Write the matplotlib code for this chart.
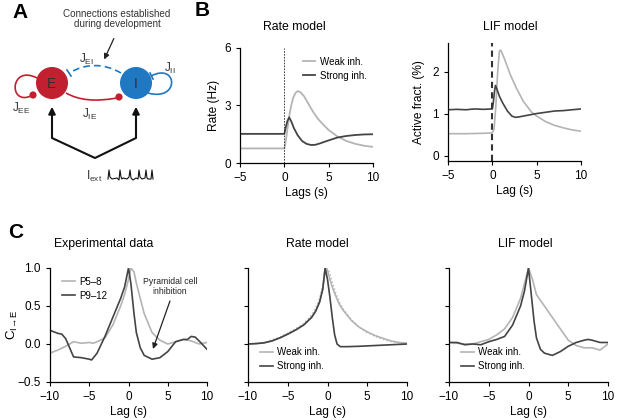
import numpy as np
import matplotlib
matplotlib.use("Agg")
import matplotlib.pyplot as plt
from matplotlib.patches import Circle, PathPatch
from matplotlib.path import Path

plt.rcParams['font.family'] = ['Liberation Sans', 'DejaVu Sans']
plt.rcParams['axes.linewidth'] = 0.9
plt.rcParams['xtick.major.size'] = 3
plt.rcParams['ytick.major.size'] = 3
plt.rcParams['xtick.labelsize'] = 8.5
plt.rcParams['ytick.labelsize'] = 8.5

LIGHT = '#b4b4b4'
DARK = '#444444'
RED = '#c0202f'
BLUE = '#2077c2'

# ---- panel B, rate model
rate_x_weak = [-5, 0, 0.1, 0.3, 0.5, 0.75, 1.0, 1.25, 1.5, 1.8, 2.2, 2.7, 3.2, 3.8, 4.5, 5, 6, 7, 8, 9, 10]
rate_y_weak = [0.76, 0.76, 0.95, 1.6, 2.3, 2.95, 3.4, 3.65, 3.75, 3.7, 3.5, 3.1, 2.7, 2.3, 1.95, 1.72, 1.38, 1.15, 1.0, 0.9, 0.84]
rate_x_strong = [-5, 0, 0.15, 0.35, 0.55, 0.8, 1.1, 1.5, 2, 2.5, 3, 3.5, 4, 5, 6, 7, 8, 9, 10]
rate_y_strong = [1.52, 1.52, 1.85, 2.2, 2.38, 2.15, 1.8, 1.45, 1.15, 1.0, 0.94, 0.95, 1.02, 1.18, 1.33, 1.41, 1.46, 1.49, 1.5]

# ---- panel B, LIF model
lif_x_weak = [-5, -3, -1, 0, 0.2, 0.4, 0.6, 0.8, 0.95, 1.3, 2, 2.7, 3.5, 4.4, 5, 6, 7, 8, 9, 10]
lif_y_weak = [0.53, 0.53, 0.54, 0.55, 0.65, 1.2, 2.0, 2.5, 2.52, 2.35, 1.95, 1.62, 1.3, 1.05, 0.95, 0.82, 0.73, 0.67, 0.62, 0.59]
lif_x_strong = [-5, -4, -3, -2, -1, 0, 0.1, 0.25, 0.35, 0.5, 0.8, 1.2, 1.7, 2.2, 2.6, 3, 4, 5, 6, 7, 8, 9, 10]
lif_y_strong = [1.1, 1.11, 1.1, 1.12, 1.11, 1.12, 1.25, 1.55, 1.68, 1.6, 1.42, 1.25, 1.07, 0.95, 0.92, 0.93, 0.97, 1.01, 1.04, 1.07, 1.08, 1.1, 1.12]

# ---- panel C, experimental
exp_x_p58 = [-10, -9, -8, -7, -6, -5, -4.5, -4, -3, -2, -1, -0.5, 0, 0.3, 0.7, 1, 2, 3, 4, 5, 6, 7, 8, 9, 10]
exp_y_p58 = [-0.12, -0.08, -0.03, 0.03, 0.01, 0.02, 0.01, 0.03, 0.08, 0.25, 0.5, 0.65, 0.85, 1.0, 0.95, 0.8, 0.4, 0.15, 0.05, 0.0, 0.03, 0.06, 0.04, 0.0, 0.02]
exp_x_p912 = [-10, -9, -8.5, -8, -7.5, -7, -6, -5, -4.7, -4, -3, -2, -1, -0.5, 0, 0.3, 0.7, 1, 1.5, 2, 3, 4, 5, 6, 7, 7.5, 8, 8.5, 9, 10]
exp_y_p912 = [0.18, 0.14, 0.13, 0.07, -0.05, -0.17, -0.18, -0.2, -0.21, -0.12, 0.1, 0.35, 0.6, 0.75, 1.0, 0.8, 0.4, 0.15, -0.05, -0.15, -0.2, -0.18, -0.1, 0.03, 0.06, 0.06, 0.1, 0.09, 0.04, -0.07]

# ---- panel C, rate model
crate_x_weak = [-10, -9, -8, -7, -6, -5, -4, -3, -2, -1.5, -1, -0.6, -0.3, 0, 0.3, 0.6, 1, 1.5, 2, 3, 4, 5, 6, 7, 8, 9, 10]
crate_y_weak = [0.0, 0.005, 0.015, 0.04, 0.08, 0.13, 0.185, 0.25, 0.35, 0.43, 0.55, 0.72, 1.0, 0.97, 0.85, 0.75, 0.64, 0.52, 0.44, 0.31, 0.22, 0.16, 0.11, 0.075, 0.04, 0.02, 0.01]
crate_x_weak2 = [-10, -8, -6, -4, -3, -2, -1.5, -1, -0.5, -0.1, 0.2, 0.5, 1, 1.5, 2, 3, 4, 5, 6, 7, 8, 10]
crate_y_weak2 = [0.0, 0.02, 0.09, 0.2, 0.27, 0.38, 0.47, 0.6, 0.82, 1.0, 0.95, 0.85, 0.68, 0.55, 0.46, 0.32, 0.22, 0.15, 0.1, 0.06, 0.03, 0.0]
crate_x_strong = [-10, -9, -8, -7, -6, -5, -4, -3, -2, -1.5, -1, -0.6, -0.3, 0, 0.3, 0.6, 0.9, 1.2, 1.6, 2.5, 4, 6, 8, 10]
crate_y_strong = [0.0, 0.005, 0.015, 0.04, 0.08, 0.13, 0.185, 0.25, 0.35, 0.43, 0.55, 0.72, 1.0, 0.85, 0.62, 0.35, 0.12, 0.0, -0.035, -0.035, -0.03, -0.02, -0.01, 0.0]

# ---- panel C, LIF model
clif_x_weak = [-10, -8, -7, -6, -5, -4, -3, -2, -1, 0, 0.5, 1, 2, 3, 4, 5, 6, 7, 8, 9, 10]
clif_y_weak = [0.02, 0.0, 0.0, 0.03, 0.06, 0.12, 0.2, 0.35, 0.6, 1.0, 0.85, 0.65, 0.5, 0.35, 0.2, 0.05, -0.02, -0.05, -0.05, -0.08, 0.0]
clif_x_strong = [-10, -9, -8, -7, -6, -5, -4, -3, -2, -1, -0.5, 0, 0.3, 0.7, 1, 1.5, 2, 3, 4, 5, 6, 7, 7.5, 8, 9, 10]
clif_y_strong = [0.02, 0.02, -0.01, 0.0, -0.01, 0.03, 0.06, 0.1, 0.25, 0.5, 0.7, 1.0, 0.7, 0.3, 0.08, -0.07, -0.12, -0.15, -0.1, -0.03, 0.02, 0.05, 0.06, 0.05, 0.02, 0.02]

W, H = 617, 420
fig = plt.figure(figsize=(6.17, 4.20), dpi=100)
TITLE_FS = 8.8
LABEL_FS = 8.6
LEG_FS = 7


def px_axes(l, t, r, b):
    return fig.add_axes([l / W, 1 - b / H, (r - l) / W, (b - t) / H])


def style(ax):
    ax.spines['top'].set_visible(False)
    ax.spines['right'].set_visible(False)


# ================= panel A (diagram) =================
axa = px_axes(0, 0, 200, 200)
axa.set_xlim(0, 200)
axa.set_ylim(200, 0)
axa.axis('off')

axa.add_patch(Circle((52, 83), 16, fc=RED, ec='none', zorder=3))
axa.add_patch(Circle((136, 83), 16, fc=BLUE, ec='none', zorder=3))
axa.text(52, 84, 'E', ha='center', va='center', fontsize=10, color='#333333', zorder=4)
axa.text(136, 84, 'I', ha='center', va='center', fontsize=10, color='#333333', zorder=4)

# J_EI dashed
p = Path([(121, 73), (95, 58), (69, 73)], [Path.MOVETO, Path.CURVE3, Path.CURVE3])
axa.add_patch(PathPatch(p, fc='none', ec=BLUE, lw=1.2, ls=(0, (4, 2.5))))
axa.plot([67, 71], [70, 76], color=BLUE, lw=1.2)
# J_II loop
p = Path([(151, 76), (178, 62), (180, 102), (148, 93)],
         [Path.MOVETO, Path.CURVE4, Path.CURVE4, Path.CURVE4])
axa.add_patch(PathPatch(p, fc='none', ec=BLUE, lw=1.2))
axa.plot([150, 153], [73, 79], color=BLUE, lw=1.2)
# J_EE loop
p = Path([(37, 78), (10, 64), (8, 106), (31, 96)],
         [Path.MOVETO, Path.CURVE4, Path.CURVE4, Path.CURVE4])
axa.add_patch(PathPatch(p, fc='none', ec=RED, lw=1.2))
axa.add_patch(Circle((33, 95), 3.6, fc=RED, ec='none', zorder=4))
# J_IE
p = Path([(66, 93), (85, 104), (117, 98)], [Path.MOVETO, Path.CURVE3, Path.CURVE3])
axa.add_patch(PathPatch(p, fc='none', ec=RED, lw=1.2))
axa.add_patch(Circle((119, 97), 3.6, fc=RED, ec='none', zorder=4))

axa.text(86, 59, r'J$_{\mathregular{EI}}$', ha='center', va='center', fontsize=8.5, color='#333333')
axa.text(170, 68, r'J$_{\mathregular{II}}$', ha='center', va='center', fontsize=8.5, color='#333333')
axa.text(21, 108, r'J$_{\mathregular{EE}}$', ha='center', va='center', fontsize=8.5, color='#333333')
axa.text(90, 114, r'J$_{\mathregular{IE}}$', ha='center', va='center', fontsize=8.5, color='#333333')

axa.text(117, 19, 'Connections established\nduring development', ha='center', va='center',
         fontsize=7.1, color='#333333', linespacing=1.1)
axa.annotate('', xy=(103, 62), xytext=(115, 36),
             arrowprops=dict(arrowstyle='-|>', color='#222222', lw=0.9, mutation_scale=8))

axa.plot([52, 52, 95, 136, 136], [115, 138, 158, 138, 115], color='#111111', lw=1.5)
axa.annotate('', xy=(52, 104), xytext=(52, 118),
             arrowprops=dict(arrowstyle='-|>', color='#111111', lw=1.5, mutation_scale=10))
axa.annotate('', xy=(136, 104), xytext=(136, 118),
             arrowprops=dict(arrowstyle='-|>', color='#111111', lw=1.5, mutation_scale=10))
axa.text(94, 176, r'I$_{\mathregular{ext}}$', ha='center', va='center', fontsize=8.5, color='#333333')
trace_x = [108, 109, 110, 111, 112, 117, 119, 120, 121, 122, 123, 127, 129, 130, 131, 132, 133,
           136, 138, 139, 140, 141, 142, 145, 146, 147, 148, 151, 152, 153]
trace_y = [179, 170, 177, 178, 179, 178, 180, 170, 177, 179, 178, 179, 177, 170, 178, 179, 180,
           178, 179, 170, 177, 178, 179, 178, 170, 178, 179, 179, 170, 179]
axa.plot(trace_x, trace_y, color='#111111', lw=0.8)

# ================= panel B =================
ax1 = px_axes(240, 48, 373, 163)
style(ax1)
ax1.plot(rate_x_weak, rate_y_weak, color=LIGHT, lw=1.3, label='Weak inh.')
ax1.plot(rate_x_strong, rate_y_strong, color=DARK, lw=1.3, label='Strong inh.')
ax1.axvline(0, color='#222222', lw=0.6, ls=(0, (2, 1.5)))
ax1.set_xlim(-5, 10)
ax1.set_ylim(0, 6)
ax1.set_xticks([-5, 0, 5, 10])
ax1.set_xticklabels(['\u22125', '0', '5', '10'])
ax1.set_yticks([0, 3, 6])
ax1.set_xlabel('Lags (s)', fontsize=LABEL_FS, labelpad=2)
ax1.set_ylabel('Rate (Hz)', fontsize=LABEL_FS, labelpad=3)
ax1.set_title('Rate model', fontsize=TITLE_FS, pad=13, x=0.406)
ax1.legend(loc='upper right', bbox_to_anchor=(1.02, 1.0), frameon=False, fontsize=LEG_FS,
           handlelength=1.3, handletextpad=0.5, labelspacing=0.4)

ax2 = px_axes(448, 43, 581, 161)
style(ax2)
ax2.plot(lif_x_weak, lif_y_weak, color=LIGHT, lw=1.2)
ax2.plot(lif_x_strong, lif_y_strong, color=DARK, lw=1.2)
ax2.axvline(0, color='#333333', lw=1.5, ls=(0, (3, 2)))
ax2.set_xlim(-5, 10)
ax2.set_ylim(-0.12, 2.69)
ax2.set_xticks([-5, 0, 5, 10])
ax2.set_xticklabels(['\u22125', '0', '5', '10'])
ax2.set_yticks([0, 1, 2])
ax2.set_xlabel('Lag (s)', fontsize=LABEL_FS, labelpad=2)
ax2.set_ylabel('Active fract. (%)', fontsize=LABEL_FS, labelpad=5)
ax2.set_title('LIF model', fontsize=TITLE_FS, pad=9.5, x=0.466)

# ================= panel C =================
c_axes = [px_axes(50, 268, 207, 382), px_axes(248, 268, 407, 382), px_axes(449, 268, 608, 382)]
for ax in c_axes:
    style(ax)
    ax.set_xlim(-10, 10)
    ax.set_ylim(-0.5, 1.0)
    ax.set_xticks([-10, -5, 0, 5, 10])
    ax.set_xticklabels(['\u221210', '\u22125', '0', '5', '10'])
    ax.set_yticks([-0.5, 0, 0.5, 1.0])
    ax.set_xlabel('Lag (s)', fontsize=LABEL_FS, labelpad=2)

a, b, c = c_axes
a.plot(exp_x_p58, exp_y_p58, color=LIGHT, lw=1.2, label='P5\u20138')
a.plot(exp_x_p912, exp_y_p912, color=DARK, lw=1.2, label='P9\u201312')
a.set_yticklabels(['\u22120.5', '0.0', '0.5', '1.0'])
a.set_ylabel(r'C$_{\mathregular{I\!\rightarrow\!E}}$', fontsize=LABEL_FS + 1)
a.yaxis.set_label_coords(-0.19, 0.5)
a.set_title('Experimental data', fontsize=TITLE_FS, pad=15, x=0.344)
a.legend(loc='upper left', bbox_to_anchor=(0.02, 1.0), frameon=False, fontsize=LEG_FS,
         handlelength=1.3, handletextpad=0.5, labelspacing=0.4)
a.text(5.3, 0.76, 'Pyramidal cell\ninhibition', ha='center', va='center', fontsize=6.2,
       color='#222222', linespacing=1.1)
a.annotate('', xy=(3.0, -0.1), xytext=(5.4, 0.6),
           arrowprops=dict(arrowstyle='-|>', color='#222222', lw=0.9, mutation_scale=8))

b.plot(crate_x_weak, crate_y_weak, color=LIGHT, lw=1.2, label='Weak inh.')
b.plot(crate_x_weak2, crate_y_weak2, color=LIGHT, lw=1.0, ls=':')
b.plot(crate_x_strong, crate_y_strong, color=DARK, lw=1.2, label='Strong inh.')
b.set_yticklabels([])
b.set_title('Rate model', fontsize=TITLE_FS, pad=15, x=0.434)
b.legend(loc='lower left', bbox_to_anchor=(0.02, 0.02), frameon=False, fontsize=LEG_FS,
         handlelength=1.3, handletextpad=0.5, labelspacing=0.4)

c.plot(clif_x_weak, clif_y_weak, color=LIGHT, lw=1.2, label='Weak inh.')
c.plot(clif_x_strong, clif_y_strong, color=DARK, lw=1.2, label='Strong inh.')
c.set_yticklabels([])
c.set_title('LIF model', fontsize=TITLE_FS, pad=15, x=0.478)
c.legend(loc='lower left', bbox_to_anchor=(0.02, 0.02), frameon=False, fontsize=LEG_FS,
         handlelength=1.3, handletextpad=0.5, labelspacing=0.4)

# panel letters
fig.text(12 / W, 1 - 12 / H, 'A', fontsize=15, fontweight='bold', va='center', ha='left')
fig.text(195 / W, 1 - 10 / H, 'B', fontsize=15, fontweight='bold', va='center', ha='left')
fig.text(8 / W, 1 - 233 / H, 'C', fontsize=15, fontweight='bold', va='center', ha='left')

fig.savefig('out.png', dpi=100)
